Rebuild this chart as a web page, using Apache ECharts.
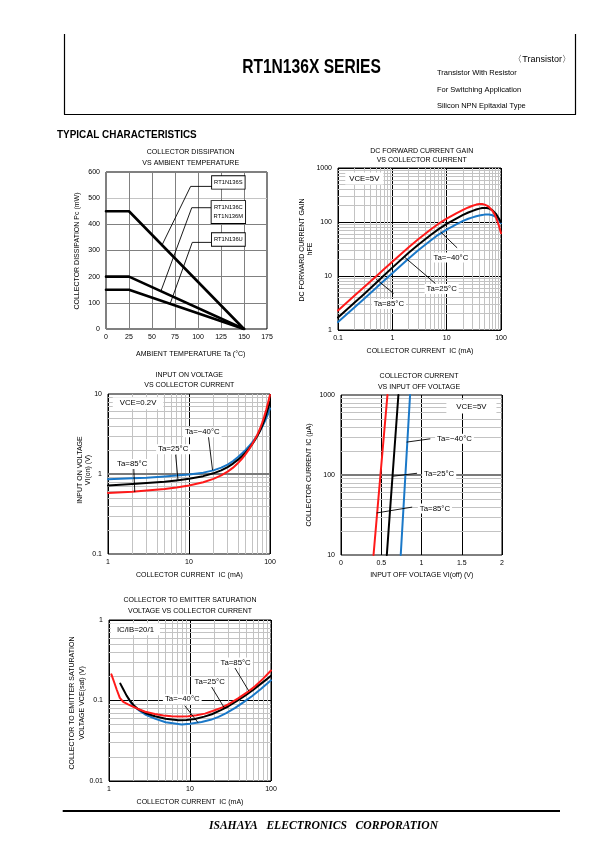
<!DOCTYPE html>
<html><head><meta charset="utf-8"><title>RT1N136X SERIES</title>
<script src="https://cdn.jsdelivr.net/npm/echarts@6/dist/echarts.min.js"></script>
<style>html,body{margin:0;padding:0;background:#fff;}#c{width:595px;height:842px;}</style>
</head><body><div id="c"></div>
<script>
// ---------- DATA ----------
// Chart 1: collector dissipation vs ambient temperature
const dissTempTicks = [0, 25, 50, 75, 100, 125, 150, 175];
const dissPcTicks = [0, 100, 200, 300, 400, 500, 600];
const dissTemp = [0, 25, 150];
const dissS = [450, 450, 0];
const dissCM = [200, 200, 0];
const dissU = [150, 150, 0];

// Chart 2: DC forward current gain vs collector current
const gainIcTicks = [0.1, 1, 10, 100];
const gainTicks = [1, 10, 100, 1000];
const gainIc = [0.1, 0.2, 0.3, 0.5, 0.7, 1, 2, 3, 5, 7, 10, 15, 20, 25, 30, 35, 40, 45, 50, 55, 60, 65, 70, 75, 80, 85, 90, 95, 100];
const gain85 = [2.3, 4.3, 6.2, 9.8, 13.3, 18.3, 34, 48, 72, 92, 115, 145, 168, 186, 200, 210, 216, 216, 210, 201, 190, 176, 160, 142, 124, 107, 90, 75, 62];
const gain25 = [1.7, 3.2, 4.6, 7.4, 10.2, 14.3, 27, 38, 57, 73, 92, 116, 135, 150, 161, 170, 177, 181, 182, 181, 178, 172, 164, 155, 143, 130, 119, 109, 100];
const gainM40 = [1.4, 2.6, 3.75, 6.0, 8.2, 11.3, 21, 30, 45, 58, 72, 90, 105, 115, 122, 128, 132, 135, 137, 138, 138, 136, 133, 130, 125, 119, 111, 103, 95];

// Chart 3: input on voltage vs collector current
const vonIcTicks = [1, 10, 100];
const vonTicks = [0.1, 1, 10];
const vonIc = [1, 2, 3, 5, 7, 10, 15, 20, 25, 30, 35, 40, 45, 50, 55, 60, 65, 70, 75, 80, 85, 90, 95, 100];
const von85 = [0.58, 0.60, 0.62, 0.65, 0.68, 0.72, 0.79, 0.87, 0.96, 1.07, 1.2, 1.36, 1.55, 1.77, 2.03, 2.34, 2.7, 3.12, 3.65, 4.35, 5.25, 6.4, 7.9, 9.7];
const von25 = [0.72, 0.75, 0.77, 0.80, 0.83, 0.87, 0.94, 1.02, 1.11, 1.22, 1.35, 1.5, 1.67, 1.86, 2.08, 2.34, 2.64, 3.0, 3.45, 4.0, 4.7, 5.6, 6.7, 8.0];
const vonM40 = [0.86, 0.885, 0.90, 0.93, 0.955, 0.985, 1.04, 1.11, 1.2, 1.31, 1.45, 1.62, 1.8, 2.0, 2.22, 2.47, 2.75, 3.07, 3.45, 3.9, 4.4, 5.0, 5.7, 6.6];

// Chart 4: collector current vs input off voltage
const voffTicks = [0, 0.5, 1, 1.5, 2];
const voffIcTicks = [10, 100, 1000];
const voffIc = [10, 100, 1000];
const voff85 = [0.404, 0.49, 0.577];
const voff25 = [0.569, 0.641, 0.713];
const voffM40 = [0.742, 0.80, 0.858];

// Chart 5: collector-emitter saturation voltage vs collector current
const satIcTicks = [1, 10, 100];
const satTicks = [0.01, 0.1, 1];
const sat85Ic = [1.07, 1.15, 1.25, 1.36, 1.5, 1.72, 2, 2.29, 2.8, 3.68, 4.7, 5.93, 7.5, 9.53, 12, 15.3, 19, 24.7, 30, 39.7, 50, 64, 80, 100];
const sat85 = [0.211, 0.172, 0.135, 0.108, 0.096, 0.0895, 0.0835, 0.0785, 0.0725, 0.0678, 0.065, 0.0638, 0.0632, 0.0636, 0.0655, 0.0687, 0.074, 0.0817, 0.0904, 0.107, 0.125, 0.151, 0.187, 0.236];
const sat25Ic = [1.38, 1.5, 1.65, 1.8, 2, 2.29, 2.8, 3.68, 5, 7.17, 9, 11.5, 15, 18.6, 24, 29.8, 38, 47.8, 60, 70, 85, 100];
const sat25 = [0.162, 0.138, 0.115, 0.1006, 0.088, 0.078, 0.070, 0.0637, 0.0595, 0.0568, 0.0572, 0.0589, 0.063, 0.0675, 0.076, 0.0848, 0.099, 0.115, 0.135, 0.153, 0.178, 0.203];
const satM40Ic = [1.75, 1.9, 2.08, 2.4, 2.8, 3.68, 5, 7.9, 10, 13.9, 18, 22.5, 28, 36.1, 45, 58.1, 75, 100];
const satM40 = [0.1035, 0.092, 0.083, 0.074, 0.067, 0.0596, 0.0537, 0.0502, 0.0515, 0.054, 0.0575, 0.0625, 0.0695, 0.081, 0.094, 0.113, 0.139, 0.178];

// ---------- STYLE / LAYOUT ----------
const FF = '"Liberation Sans", Arial, Helvetica, sans-serif';
const RED = '#ff1a1a', BLACK = '#000000', BLUE = '#1a78c8';
const zip = (xs, ys) => xs.map((x, i) => [x, ys[i]]);
const fmt = v => String(parseFloat(Number(v).toPrecision(6)));
function minors(ticks) {
  const out = [];
  for (let i = 0; i < ticks.length - 1; i++) for (let k = 2; k <= 9; k++) out.push(parseFloat((ticks[i] * k).toPrecision(6)));
  return out;
}
const gridBoxes = [
  {left: 106, top: 172, width: 161, height: 157},
  {left: 338, top: 168, width: 163, height: 162},
  {left: 108, top: 394, width: 162, height: 160},
  {left: 341, top: 395, width: 161, height: 160},
  {left: 109, top: 620, width: 162, height: 161}
];

function axis(g, type, ticks, isX, split) {
  const a = {
    gridIndex: g, type, min: ticks[0], max: ticks[ticks.length - 1],
    axisLine: {show: false}, axisTick: {show: false},
    axisLabel: {fontSize: 7, fontFamily: FF, color: '#000', margin: isX ? 5 : 6, formatter: fmt,
      showMinLabel: true, showMaxLabel: true, hideOverlap: false},
    splitLine: split ? {show: true, lineStyle: {color: split, width: 1}} : {show: false}
  };
  if (type === 'value') a.interval = ticks[1] - ticks[0];
  if (type === 'log') a.logBase = 10;
  return a;
}

const xAxes = [
  axis(0, 'value', dissTempTicks, true, '#808080'),
  axis(1, 'log', gainIcTicks, true, '#000'),
  axis(2, 'log', vonIcTicks, true, '#000'),
  axis(3, 'value', voffTicks, true, '#000'),
  axis(4, 'log', satIcTicks, true, '#000')
];
const yAxes = [
  axis(0, 'value', dissPcTicks, false, ['#808080', '#808080', '#808080', '#808080', '#808080', '#c4c4c4', '#808080']),
  axis(1, 'log', gainTicks, false, '#000'),
  axis(2, 'log', vonTicks, false, null),
  axis(3, 'log', voffIcTicks, false, null),
  axis(4, 'log', satTicks, false, '#000')
];

function curve(g, data, color, width, extra) {
  return Object.assign({type: 'line', xAxisIndex: g, yAxisIndex: g, data, symbol: 'none', silent: true,
    lineStyle: {color, width, join: 'round', cap: 'round'}, itemStyle: {color}, z: 3, animation: false}, extra || {});
}
function gridLines(g, xm, ym, extra, anchor) {
  const data = [...xm.map(v => ({xAxis: v})), ...ym.map(v => ({yAxis: v})), ...(extra || [])];
  return {type: 'line', xAxisIndex: g, yAxisIndex: g, data: [anchor], symbol: 'none', silent: true, z: 1,
    lineStyle: {opacity: 0}, animation: false,
    markLine: {silent: true, z: 1, symbol: ['none', 'none'], label: {show: false}, animation: false,
      emphasis: {disabled: true}, lineStyle: {color: '#c3c3c3', width: 1, type: 'solid'}, data}};
}

const series = [
  curve(0, zip(dissTemp, dissS), BLACK, 2.6),
  curve(0, zip(dissTemp, dissCM), BLACK, 2.6),
  curve(0, zip(dissTemp, dissU), BLACK, 2.6),

  gridLines(1, minors(gainIcTicks), minors(gainTicks), null, [0.1, 1]),
  curve(1, zip(gainIc, gainM40), BLUE, 2),
  curve(1, zip(gainIc, gain25), BLACK, 2),
  curve(1, zip(gainIc, gain85), RED, 2),

  gridLines(2, minors(vonIcTicks), minors(vonTicks), [{yAxis: 1, lineStyle: {color: '#7a7a7a', width: 2}}], [1, 0.1]),
  curve(2, zip(vonIc, vonM40), BLUE, 2),
  curve(2, zip(vonIc, von25), BLACK, 2),
  curve(2, zip(vonIc, von85), RED, 2),

  gridLines(3, [], minors(voffIcTicks), [{yAxis: 100, lineStyle: {color: '#7a7a7a', width: 2}}], [0, 10]),
  curve(3, zip(voffM40, voffIc), BLUE, 2),
  curve(3, zip(voff25, voffIc), BLACK, 2),
  curve(3, zip(voff85, voffIc), RED, 2),

  gridLines(4, minors(satIcTicks), minors(satTicks), null, [1, 0.01]),
  curve(4, zip(satM40Ic, satM40), BLUE, 2),
  curve(4, zip(sat25Ic, sat25), BLACK, 2),
  curve(4, zip(sat85Ic, sat85), RED, 2)
];

// annotation leader lines (data coordinates)
const leaders = [
  {g: 0, pts: [[116, 545], [92, 545], [60.5, 318]]},
  {g: 0, pts: [[116, 463.5], [93.2, 463.5], [59.5, 143]]},
  {g: 0, pts: [[116, 331], [93.8, 331], [69.6, 95.5]]},
  {g: 1, pts: [[15.4, 33.6], [7.8, 65]]},
  {g: 1, pts: [[6.13, 7.35], [1.71, 22]]},
  {g: 1, pts: [[1.04, 4.8], [0.513, 8.6]]},
  {g: 2, pts: [[17.2, 3.2], [19.5, 1.13]]},
  {g: 2, pts: [[6.85, 1.73], [7.31, 0.845]]},
  {g: 2, pts: [[2.08, 1.18], [2.14, 0.6]]},
  {g: 3, pts: [[1.105, 283], [0.82, 258]]},
  {g: 3, pts: [[0.94, 105], [0.64, 96.4]]},
  {g: 3, pts: [[0.879, 39.6], [0.447, 33.6]]},
  {g: 4, pts: [[36.1, 0.251], [52.8, 0.133]]},
  {g: 4, pts: [[18.6, 0.146], [26.6, 0.0805]]},
  {g: 4, pts: [[8.67, 0.0855], [12.5, 0.0535]]}
];
leaders.forEach(l => series.push(curve(l.g, l.pts, '#000', 0.9, {z: 4})));

const chart = echarts.init(document.getElementById('c'), null, {renderer: 'canvas', width: 595, height: 842});
chart.setOption({
  animation: false,
  backgroundColor: '#fff',
  grid: gridBoxes.map(b => Object.assign({show: true, borderColor: '#000', borderWidth: 1, backgroundColor: 'transparent', containLabel: false}, b)),
  xAxis: xAxes,
  yAxis: yAxes,
  series
});

// ---------- TEXT / GRAPHICS ----------
const G = [];
function txt(x, y, text, o) {
  o = o || {};
  const el = {type: 'text', x, y, z: 100, rotation: o.rot || 0, scaleX: o.sx || 1,
    style: Object.assign({text, fill: '#000', fontSize: 7, fontFamily: FF, align: 'center', verticalAlign: 'middle'}, o.style || {})};
  G.push(el);
}
function ln(x1, y1, x2, y2, w) {
  G.push({type: 'line', z: 100, shape: {x1, y1, x2, y2}, style: {stroke: '#000', lineWidth: w}});
}
// header frame
ln(64.5, 34, 64.5, 114.5, 1.2);
ln(575.5, 34, 575.5, 114.5, 1.2);
ln(64, 114.5, 576, 114.5, 1.2);
txt(311.5, 67, 'RT1N136X SERIES', {sx: 0.78, style: {fontSize: 20, fontWeight: 'bold'}});
txt(571, 59.3, '〈Transistor〉', {style: {fontSize: 9, align: 'right'}});
txt(437, 73.3, 'Transistor With Resistor', {style: {fontSize: 7.5, align: 'left'}});
txt(437, 90, 'For Switching Application', {style: {fontSize: 7.5, align: 'left'}});
txt(437, 106, 'Silicon NPN Epitaxial Type', {style: {fontSize: 7.5, align: 'left'}});
G.push({type: 'text', x: 57, y: 135, z: 100, scaleX: 0.9,
  style: {text: 'TYPICAL CHARACTERISTICS', fill: '#000', fontSize: 11, fontWeight: 'bold', fontFamily: FF, align: 'left', verticalAlign: 'middle'}});
// footer
ln(62.7, 811, 560, 811, 2.2);
txt(323.5, 826, 'ISAHAYA   ELECTRONICS   CORPORATION',
  {style: {fontSize: 11.6, fontWeight: 'bold', fontStyle: 'italic', fontFamily: '"Liberation Serif", "Times New Roman", serif'}});

// chart titles
const R = Math.PI / 2;
txt(190.7, 152.3, 'COLLECTOR DISSIPATION'); txt(190.7, 163.3, 'VS AMBIENT TEMPERATURE');
txt(421.7, 150.7, 'DC FORWARD CURRENT GAIN'); txt(421.7, 160.3, 'VS COLLECTOR CURRENT');
txt(189.3, 374.7, 'INPUT ON VOLTAGE'); txt(189.3, 384.7, 'VS COLLECTOR CURRENT');
txt(419, 376.3, 'COLLECTOR CURRENT'); txt(419, 387, 'VS INPUT OFF VOLTAGE');
txt(190, 600.3, 'COLLECTOR TO EMITTER SATURATION'); txt(190, 611.3, 'VOLTAGE VS COLLECTOR CURRENT');
// axis names
txt(77.3, 251, 'COLLECTOR DISSIPATION Pc (mW)', {rot: R});
txt(190.7, 354.3, 'AMBIENT TEMPERATURE Ta (°C)');
txt(301.7, 250, 'DC FORWARD CURRENT GAIN', {rot: R});
txt(310.5, 249, 'hFE', {rot: R});
txt(420, 350.7, 'COLLECTOR CURRENT  IC (mA)');
txt(80, 470, 'INPUT ON VOLTAGE', {rot: R});
txt(88.5, 470, 'VI(on) (V)', {rot: R});
txt(189.3, 575.3, 'COLLECTOR CURRENT  IC (mA)');
txt(309, 475, 'COLLECTOR CURRENT IC (μA)', {rot: R});
txt(421.7, 575.3, 'INPUT OFF VOLTAGE VI(off) (V)');
txt(72.3, 703, 'COLLECTOR TO EMITTER SATURATION', {rot: R});
txt(82.3, 703, 'VOLTAGE VCE(sat) (V)', {rot: R});
txt(190, 802.3, 'COLLECTOR CURRENT  IC (mA)');

// annotations placed in data coordinates
const notes = [
  {g: 0, at: [133, 560], text: 'RT1N136S', boxed: true},
  {g: 0, at: [133, 447], text: 'RT1N136C\nRT1N136M', boxed: true},
  {g: 0, at: [133, 342], text: 'RT1N136U', boxed: true},
  {g: 1, at: [0.305, 638], text: 'VCE=5V', pad: [2, 4]},
  {g: 1, at: [12.0, 21.9], text: 'Ta=−40°C'},
  {g: 1, at: [8.09, 5.77], text: 'Ta=25°C'},
  {g: 1, at: [0.865, 3.04], text: 'Ta=85°C'},
  {g: 2, at: [2.35, 7.65], text: 'VCE=0.2V', pad: [2, 7]},
  {g: 2, at: [14.6, 3.33], text: 'Ta=−40°C'},
  {g: 2, at: [6.38, 2.04], text: 'Ta=25°C'},
  {g: 2, at: [1.99, 1.33], text: 'Ta=85°C'},
  {g: 3, at: [1.62, 717], text: 'VCE=5V', pad: [3, 10]},
  {g: 3, at: [1.41, 283], text: 'Ta=−40°C'},
  {g: 3, at: [1.219, 103], text: 'Ta=25°C'},
  {g: 3, at: [1.167, 38], text: 'Ta=85°C'},
  {g: 4, at: [2.12, 0.765], text: 'IC/IB=20/1', pad: [2, 6]},
  {g: 4, at: [36.6, 0.296], text: 'Ta=85°C'},
  {g: 4, at: [17.5, 0.170], text: 'Ta=25°C'},
  {g: 4, at: [8.03, 0.1035], text: 'Ta=−40°C'}
];
notes.forEach(n => {
  const p = chart.convertToPixel({gridIndex: n.g}, n.at);
  const st = n.boxed
    ? {fontSize: 5.8, lineHeight: 9.5, backgroundColor: '#fff', borderColor: '#000', borderWidth: 0.9, padding: [1.5, 2]}
    : {fontSize: 7.8, backgroundColor: '#fff', padding: n.pad || [1, 2]};
  txt(p[0], p[1], n.text, {style: st});
});

chart.setOption({graphic: G});
</script>
</body></html>
